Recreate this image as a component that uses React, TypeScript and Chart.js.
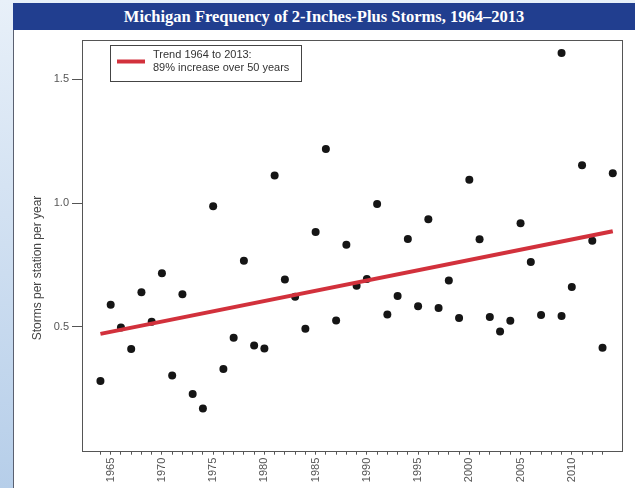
import React, { useEffect, useRef } from "react";
import { Chart, registerables } from "chart.js";

Chart.register(...registerables);

const titleText = "Michigan Frequency of 2-Inches-Plus Storms, 1964\u20132013";
const yTitle = "Storms per station per year";
const legendLines = ["Trend 1964 to 2013:", "89% increase over 50 years"];

const years = [
  1964, 1965, 1966, 1967, 1968, 1969, 1970, 1971, 1972, 1973,
  1974, 1975, 1976, 1977, 1978, 1979, 1980, 1981, 1982, 1983,
  1984, 1985, 1986, 1987, 1988, 1989, 1990, 1991, 1992, 1993,
  1994, 1995, 1996, 1997, 1998, 1999, 2000, 2001, 2002, 2003,
  2004, 2005, 2006, 2007, 2009, 2009, 2010, 2011, 2012, 2013, 2014,
];
const storms = [
  0.282, 0.59, 0.498, 0.411, 0.64, 0.521, 0.717, 0.304, 0.632, 0.229,
  0.17, 0.988, 0.33, 0.456, 0.767, 0.425, 0.413, 1.112, 0.692, 0.622,
  0.493, 0.884, 1.219, 0.526, 0.832, 0.666, 0.694, 0.997, 0.55, 0.625,
  0.855, 0.584, 0.935, 0.577, 0.688, 0.536, 1.095, 0.854, 0.54, 0.482,
  0.525, 0.919, 0.762, 0.548, 1.607, 0.544, 0.661, 1.153, 0.848, 0.416, 1.121,
];
const trendYears = [1964, 2014];
const trendValues = [0.472, 0.887];
const yTickValues = [0.5, 1.0, 1.5];
const xTickFirst = 1964;
const xTickLast = 2013;
const xLabelEvery = 5;

const overlayPlugin = {
  id: "overlay",
  afterDraw(chart: any) {
    const ctx = chart.ctx;
    const a = chart.chartArea;
    ctx.save();
    // frame
    ctx.strokeStyle = "#555";
    ctx.lineWidth = 1;
    ctx.strokeRect(Math.round(a.left) + 0.5, Math.round(a.top) + 0.5, Math.round(a.right - a.left), Math.round(a.bottom - a.top));
    // legend box
    ctx.fillStyle = "#fff";
    ctx.fillRect(96, 15, 191, 36);
    ctx.strokeStyle = "#444";
    ctx.strokeRect(96.5, 15.5, 191, 36);
    ctx.strokeStyle = "#d2313c";
    ctx.lineWidth = 4;
    ctx.beginPath();
    ctx.moveTo(103, 31.5);
    ctx.lineTo(131, 31.5);
    ctx.stroke();
    ctx.fillStyle = "#333";
    ctx.font = "11px 'Liberation Sans', Arial, sans-serif";
    ctx.textBaseline = "middle";
    ctx.textAlign = "left";
    ctx.fillText(legendLines[0], 139, 25);
    ctx.fillText(legendLines[1], 139, 38);
    // y title
    ctx.translate(24, 238);
    ctx.rotate(-Math.PI / 2);
    ctx.textAlign = "center";
    ctx.fillStyle = "#444";
    ctx.font = "12px 'Liberation Sans', Arial, sans-serif";
    ctx.fillText(yTitle, 0, 0);
    ctx.restore();
  },
};

function StormChart() {
  const ref = useRef<HTMLCanvasElement | null>(null);
  useEffect(() => {
    if (!ref.current) return;
    const points = years.map((y, i) => ({ x: y, y: storms[i] }));
    const trend = trendYears.map((y, i) => ({ x: y, y: trendValues[i] }));
    const chart = new Chart(ref.current, {
      type: "scatter",
      data: {
        datasets: [
          {
            type: "line",
            data: trend,
            borderColor: "#d2313c",
            borderWidth: 4,
            pointRadius: 0,
            order: 0,
          } as any,
          {
            data: points,
            backgroundColor: "#151515",
            borderColor: "#151515",
            pointRadius: 4,
            borderWidth: 0,
            order: 1,
          },
        ],
      },
      options: {
        animation: false,
        responsive: false,
        devicePixelRatio: 1,
        layout: { padding: { left: 0, top: 6, right: 13, bottom: 0 } },
        plugins: { legend: { display: false }, tooltip: { enabled: false } },
        scales: {
          x: {
            type: "linear",
            min: 1962.2,
            max: 2014.9,
            border: { display: false },
            grid: { drawOnChartArea: false, drawTicks: true, tickLength: 4, color: "#555" },
            afterBuildTicks: (scale: any) => {
              const t = [];
              for (let v = xTickFirst; v <= xTickLast; v++) t.push({ value: v });
              scale.ticks = t;
            },
            afterFit: (scale: any) => {
              scale.height = 37.3;
            },
            ticks: {
              autoSkip: false,
              minRotation: 90,
              maxRotation: 90,
              padding: 3,
              color: "#555",
              font: { size: 11, family: "'Liberation Sans', Arial, sans-serif" },
              callback: (v: any) => (Number(v) % xLabelEvery === 0 ? String(v) : ""),
            },
          },
          y: {
            type: "linear",
            min: 0,
            max: 1.661,
            border: { display: false },
            grid: { drawOnChartArea: false, drawTicks: true, tickLength: 10, color: "#555" },
            afterBuildTicks: (scale: any) => {
              scale.ticks = yTickValues.map((v) => ({ value: v }));
            },
            afterFit: (scale: any) => {
              scale.width = 68;
            },
            ticks: {
              padding: 3,
              color: "#555",
              font: { size: 11, family: "'Liberation Sans', Arial, sans-serif" },
              callback: (v: any) => Number(v).toFixed(1),
            },
          },
        },
      },
      plugins: [overlayPlugin],
    });
    return () => chart.destroy();
  }, []);
  return <canvas ref={ref} width={621} height={458} style={{ display: "block", width: 621, height: 458 }} />;
}

export default function App() {
  return (
    <div
      style={{
        position: "fixed",
        left: 0,
        top: 0,
        width: 635,
        height: 488,
        overflow: "hidden",
        background: "linear-gradient(to bottom, #e8f0f9, #b6cee9)",
      }}
    >
      <div
        style={{
          position: "absolute",
          left: 13,
          top: 3,
          width: 622,
          height: 27,
          background: "#213e8f",
          color: "#fff",
          fontFamily: "'Liberation Serif', 'Times New Roman', serif",
          fontWeight: "bold",
          fontSize: 16.5,
          lineHeight: "27px",
          textAlign: "center",
        }}
      >
        {titleText}
      </div>
      <div
        style={{
          position: "absolute",
          left: 13,
          top: 30,
          width: 622,
          height: 458,
          background: "#fff",
          borderLeft: "1px solid #5a6070",
          boxSizing: "border-box",
        }}
      >
        <StormChart />
      </div>
    </div>
  );
}
